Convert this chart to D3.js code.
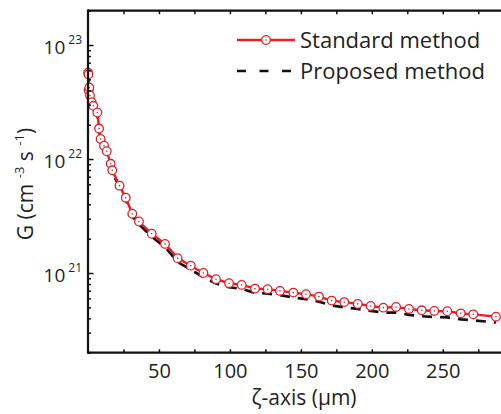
<!DOCTYPE html>
<html>
<head>
<meta charset="utf-8">
<script src="https://cdn.jsdelivr.net/npm/d3@7"></script>
<style>
  html, body { margin: 0; padding: 0; background: #fff; }
  svg { display: block; }
  text { font-family: "Open Sans", "Noto Sans", sans-serif; fill: #231f20; }
</style>
</head>
<body>
<svg id="chart" width="501" height="414"></svg>
<script>
// Generation rate along the ζ-axis
const zetaStandard = [0.1, 0.3, 0.4, 0.9, 1.4, 2.6, 3.7, 6.6, 7.8, 8.9, 11.3, 13.2, 16.0, 17.1,
  22.2, 26.6, 31.2, 35.9, 44.9, 54.3, 63.2, 72.4, 81.3, 90.2, 99.4, 108.3, 117.7, 126.6,
  135.3, 144.7, 153.6, 162.8, 171.7, 180.6, 190.1, 199.2, 208.1, 217.1, 226.2, 235.2,
  244.0, 253.2, 262.7, 271.5, 287.5];
const gStandard = [5.72e22, 5.53e22, 4.02e22, 4.23e22, 3.61e22, 3.15e22, 2.93e22, 2.56e22,
  1.85e22, 1.50e22, 1.31e22, 1.17e22, 9.08e21, 7.96e21, 5.84e21, 4.58e21, 3.31e21, 2.83e21,
  2.21e21, 1.80e21, 1.35e21, 1.16e21, 1.00e21, 8.83e20, 8.14e20, 7.87e20, 7.30e20, 7.21e20,
  6.97e20, 6.73e20, 6.52e20, 6.21e20, 5.73e20, 5.56e20, 5.36e20, 5.14e20, 4.97e20, 5.04e20,
  4.84e20, 4.71e20, 4.65e20, 4.62e20, 4.43e20, 4.34e20, 4.14e20];

const zetaProposed = [0.1, 0.9, 1.4, 2.6, 3.7, 6.6, 7.8, 8.9, 11.3, 13.2, 16.0, 17.1, 22.2,
  26.6, 31.2, 35.9, 44.9, 54.3, 63.2, 72.4, 81.3, 90.2, 99.4, 108.3, 117.7, 126.6, 135.3,
  144.7, 153.6, 162.8, 171.7, 180.6, 190.1, 199.2, 208.1, 217.1, 226.2, 235.2, 244.0,
  253.2, 262.7, 271.5, 287.5];
const gProposed = [5.5e22, 4.2e22, 3.6e22, 3.1e22, 2.9e22, 2.5e22, 1.82e22, 1.47e22, 1.28e22,
  1.13e22, 8.8e21, 7.7e21, 5.6e21, 4.4e21, 3.15e21, 2.68e21, 2.08e21, 1.69e21, 1.25e21,
  1.07e21, 9.2e20, 8.1e20, 7.5e20, 7.25e20, 6.7e20, 6.6e20, 6.4e20, 6.1e20, 5.9e20, 5.6e20,
  5.2e20, 5.0e20, 4.85e20, 4.65e20, 4.5e20, 4.5e20, 4.3e20, 4.18e20, 4.12e20, 4.08e20,
  3.92e20, 3.85e20, 3.68e20];

const xTicks = [25, 50, 75, 100, 125, 150, 175, 200, 225, 250, 275];
const xTickLabels = [50, 100, 150, 200, 250];
const yMajor = [1e21, 1e22, 1e23];
const seriesNames = ["Standard method", "Proposed method"];

const svg = d3.select("#chart");
const plotLeft = 88, plotTop = 10.7, plotBottom = 352.7;
const x = d3.scaleLinear().domain([0, 300]).range([plotLeft, plotLeft + 300 * 1.419]);
const y = d3.scaleLog().domain([2e20, 2e23]).range([plotBottom, plotTop]);

const red = "#ed1c24";
const axisColor = "#111";

const plot = svg.append("g");

// Proposed method (dashed)
const lineP = d3.line().x((d, i) => x(zetaProposed[i])).y(d => y(d));
plot.append("path").datum(gProposed)
  .attr("d", lineP).attr("fill", "none").attr("stroke", "#111")
  .attr("stroke-width", 2.7).attr("stroke-dasharray", "10,8");

// Standard method (line + circle markers)
const lineS = d3.line().x((d, i) => x(zetaStandard[i])).y(d => y(d));
plot.append("path").datum(gStandard)
  .attr("d", lineS).attr("fill", "none").attr("stroke", red).attr("stroke-width", 2.4);

const marks = plot.append("g").selectAll("g").data(gStandard).join("g")
  .attr("transform", (d, i) => `translate(${x(zetaStandard[i])},${y(d)})`);
marks.append("circle").attr("r", 4.3).attr("fill", "#fff").attr("stroke", red).attr("stroke-width", 1.3);
marks.append("circle").attr("r", 0.8).attr("fill", red);

// Axes
const gx = svg.append("g").attr("transform", `translate(0,${plotBottom})`)
  .call(d3.axisBottom(x).tickValues(xTicks).tickSizeInner(-3.5).tickSizeOuter(0).tickPadding(11.5)
    .tickFormat(d => xTickLabels.includes(d) ? d : ""));
gx.select(".domain").remove();
gx.selectAll("line").attr("stroke", axisColor).attr("stroke-width", 1.5);
gx.selectAll("text").style("font-size", "20px").attr("fill", "#231f20");

const gxTop = svg.append("g").attr("transform", `translate(0,${plotTop})`)
  .call(d3.axisTop(x).tickValues(xTicks).tickSizeInner(-3.5).tickSizeOuter(0).tickFormat(""));
gxTop.select(".domain").remove();
gxTop.selectAll("line").attr("stroke", axisColor).attr("stroke-width", 1.5);

// Minor log ticks
const yMinor = [];
[1e20, 1e21, 1e22].forEach(dec => { for (let k = 2; k <= 9; k++) { const v = dec * k; if (v >= 2e20 && v <= 2e23) yMinor.push(v); } });
yMinor.push(2e23);
const gyMinor = svg.append("g").attr("transform", `translate(${plotLeft},0)`)
  .call(d3.axisLeft(y).tickValues(yMinor).tickSizeInner(-3).tickSizeOuter(0).tickFormat(""));
gyMinor.select(".domain").remove();
gyMinor.selectAll("line").attr("stroke", axisColor).attr("stroke-width", 1.5);

const gy = svg.append("g").attr("transform", `translate(${plotLeft},0)`)
  .call(d3.axisLeft(y).tickValues(yMajor).tickSizeInner(-5.5).tickSizeOuter(0).tickPadding(6)
    .tickFormat(() => ""));
gy.select(".domain").remove();
gy.selectAll("line").attr("stroke", axisColor).attr("stroke-width", 1.5);
gy.selectAll("text").each(function (d) {
  const t = d3.select(this).attr("dy", null).attr("y", 8);
  t.append("tspan").text("10").style("font-size", "19px");
  t.append("tspan").text(Math.round(Math.log10(d))).style("font-size", "12px")
    .attr("dx", 3).attr("dy", -10);
});

// Frame lines
svg.append("line").attr("x1", plotLeft).attr("x2", 501).attr("y1", plotBottom).attr("y2", plotBottom)
  .attr("stroke", axisColor).attr("stroke-width", 2.2);
svg.append("line").attr("x1", plotLeft).attr("x2", 501).attr("y1", plotTop).attr("y2", plotTop)
  .attr("stroke", axisColor).attr("stroke-width", 2.2);
svg.append("line").attr("x1", plotLeft).attr("x2", plotLeft).attr("y1", plotTop - 1.1).attr("y2", plotBottom + 1.1)
  .attr("stroke", axisColor).attr("stroke-width", 2.2);

// Axis titles
svg.append("text").attr("x", 304).attr("y", 405).attr("text-anchor", "middle")
  .style("font-size", "21px").text("ζ-axis (μm)");

const yt = svg.append("text").attr("transform", "translate(33,184) rotate(-90)")
  .attr("text-anchor", "middle").style("font-size", "21px");
yt.append("tspan").text("G (cm  ");
yt.append("tspan").text("-3").style("font-size", "13px").attr("dy", -9);
yt.append("tspan").text(" s ").attr("dy", 9);
yt.append("tspan").text("-1").style("font-size", "13px").attr("dy", -9);
yt.append("tspan").text(")").attr("dy", 9);

// Legend
const lg = svg.append("g");
lg.append("line").attr("x1", 237).attr("x2", 295).attr("y1", 40).attr("y2", 40)
  .attr("stroke", red).attr("stroke-width", 2.4);
lg.append("circle").attr("cx", 266).attr("cy", 40).attr("r", 4.3).attr("fill", "#fff")
  .attr("stroke", red).attr("stroke-width", 1.3);
lg.append("circle").attr("cx", 266).attr("cy", 40).attr("r", 0.8).attr("fill", red);
lg.append("line").attr("x1", 237).attr("x2", 291).attr("y1", 71).attr("y2", 71)
  .attr("stroke", "#111").attr("stroke-width", 2.7).attr("stroke-dasharray", "9,13.5");
lg.selectAll("text.lab").data(seriesNames).join("text").attr("class", "lab")
  .attr("x", 300).attr("y", (d, i) => 48 + i * 31).style("font-size", "22px").text(d => d);
</script>
</body>
</html>
